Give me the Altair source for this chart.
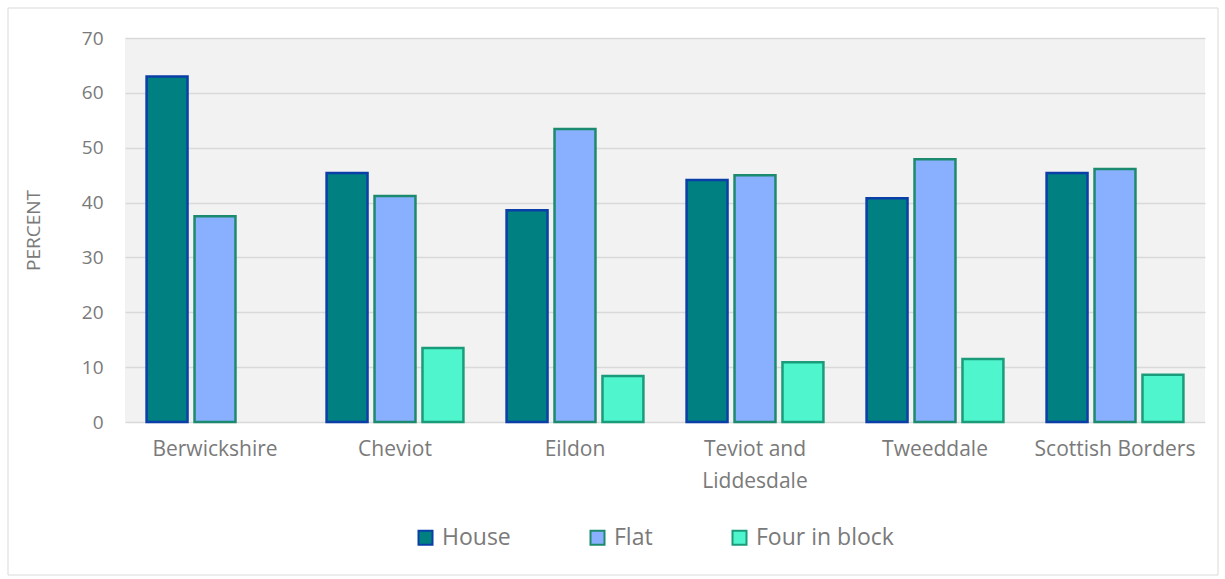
import altair as alt
import pandas as pd

regions = ["Berwickshire", "Cheviot", "Eildon", "Teviot and Liddesdale", "Tweeddale", "Scottish Borders"]
house = [63.0, 45.4, 38.6, 44.1, 40.8, 45.4]
flat = [37.5, 41.2, 53.4, 45.0, 47.9, 46.1]
four_in_block = [None, 13.5, 8.4, 10.9, 11.5, 8.6]

types = ["House", "Flat", "Four in block"]
fills = ["#008080", "#88b0ff", "#4ff5cc"]
strokes = ["#0b3fa8", "#1c8a6e", "#1a9c7a"]

rows = []
for i, r in enumerate(regions):
    for t, vals in zip(types, [house, flat, four_in_block]):
        if vals[i] is not None:
            rows.append({"Region": r, "Type": t, "Value": vals[i]})
df = pd.DataFrame(rows)

FONT = "Open Sans"
GREY = "#7a7a7a"

x = alt.X("Region:N", sort=regions, title=None,
          scale=alt.Scale(paddingInner=0, paddingOuter=0),
          axis=alt.Axis(labelAngle=0, labelFontSize=21, labelColor=GREY, labelFont=FONT,
                        domain=False, ticks=False, labelPadding=16, labelLineHeight=32,
                        labelExpr="datum.label == 'Teviot and Liddesdale' ? ['Teviot and', 'Liddesdale'] : datum.label"))
xo = alt.XOffset("Type:N", sort=types, scale=alt.Scale(paddingInner=0.146, paddingOuter=0.45))
y = alt.Y("Value:Q", title="PERCENT", scale=alt.Scale(domain=[0, 70]),
          axis=alt.Axis(values=[0, 10, 20, 30, 40, 50, 60, 70], labelFontSize=19, labelColor=GREY,
                        labelFont=FONT, domain=False, ticks=False, labelPadding=22,
                        gridColor="#d9d9d9", gridWidth=1.5, titleFont=FONT, titleFontSize=19,
                        titleFontWeight="normal", titleColor=GREY, titlePadding=38))

bars = alt.Chart(df).mark_bar(strokeWidth=2.5).encode(
    x=x, xOffset=xo, y=y,
    fill=alt.Fill("Type:N", sort=types, scale=alt.Scale(domain=types, range=fills),
                  legend=alt.Legend(title=None, orient="none", legendX=289, legendY=488,
                                    direction="horizontal", symbolType="square", symbolSize=196,
                                    symbolStrokeWidth=2, labelFontSize=23, labelFont=FONT,
                                    labelColor=GREY, columnPadding=75, labelOffset=5)),
    stroke=alt.Stroke("Type:N", sort=types, scale=alt.Scale(domain=types, range=strokes)),
)

border = alt.Chart(pd.DataFrame({"a": [0]})).mark_rect(fill=None, stroke="#d9d9d9", strokeWidth=1, clip=False).encode(
    x=alt.value(-117), x2=alt.value(1093), y=alt.value(-30), y2=alt.value(537)
)

chart = alt.layer(border, bars).properties(
    width=1080, height=384,
    autosize=alt.AutoSizeParams(type="none"),
    padding={"left": 125, "top": 38, "right": 20, "bottom": 157},
    background="white",
).configure_view(fill="#f2f2f2", stroke=None)

chart.save("out.html", embed_options={"renderer": "svg", "actions": False})
